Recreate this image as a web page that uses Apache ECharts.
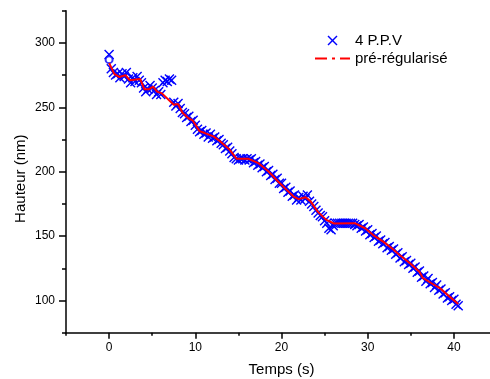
<!DOCTYPE html>
<html>
<head>
<meta charset="utf-8">
<script src="https://cdn.jsdelivr.net/npm/echarts@6/dist/echarts.min.js"></script>
<style>html,body{margin:0;padding:0;background:#fff;}#c{width:490px;height:379px;}</style>
</head>
<body>
<div id="c"></div>
<script>
// Measured points "4 P.P.V" (time in s, height in nm)
const ppvTime = [0,0.25,0.5,0.75,1,1.25,1.5,1.75,2,2.25,2.5,2.75,3,3.25,3.5,3.75,4,4.25,4.5,4.75,5,5.25,5.5,5.75,6,6.25,6.5,6.75,7,7.25,7.5,7.75,8,8.25,8.5,8.75,9,9.25,9.5,9.75,10,10.25,10.5,10.75,11,11.25,11.5,11.75,12,12.25,12.5,12.75,13,13.25,13.5,13.75,14,14.25,14.5,14.75,15,15.25,15.5,15.75,16,16.25,16.5,16.75,17,17.25,17.5,17.75,18,18.25,18.5,18.75,19,19.25,19.5,19.75,20,20.25,20.5,20.75,21,21.25,21.5,21.75,22,22.25,22.5,22.75,23,23.25,23.5,23.75,24,24.25,24.5,24.75,25,25.25,25.5,25.75,26,26.25,26.5,26.75,27,27.25,27.5,27.75,28,28.25,28.5,28.75,29,29.25,29.5,29.75,30,30.25,30.5,30.75,31,31.25,31.5,31.75,32,32.25,32.5,32.75,33,33.25,33.5,33.75,34,34.25,34.5,34.75,35,35.25,35.5,35.75,36,36.25,36.5,36.75,37,37.25,37.5,37.75,38,38.25,38.5,38.75,39,39.25,39.5,39.75,40,40.25,40.5];
const ppvHeight = [291,280,277,275,276,273,276,274,277,272,269,273,270,274,271,269,265,262,264,267,265,263,260,262,260,269,271,270,272,271,254,251,253,249,246,245,242,243,239,240,236,233,231,232,229,230,227,229,226,227,224,225,222,221,218,219,216,214,211,210,209,210,210,209,210,209,210,207,208,205,206,203,204,200,201,197,198,194,195,191,191,187,188,184,185,181,182,178,180,178,181,179,182,177,175,173,170,168,166,165,162,160,156,155,158,160,160,160,160,160,160,160,160,160,159,158,159,156,157,154,155,151,152,149,150,146,147,144,145,141,142,139,140,136,137,133,134,130,131,128,129,125,126,122,123,118,119,115,117,113,114,110,112,108,109,105,106,102,103,100,101,97,96];
// Extra hollow marker at start
const startTime = [0];
const startHeight = [287];
// Pre-regularised curve
const regTime = [0,0.6,1.2,1.9,2.4,3.6,4.1,4.6,5.1,5.6,6.1,7.5,8.0,8.5,9.2,9.7,10.5,11.1,12.1,12.9,14.0,14.8,16.2,17.3,18.5,19.6,20.6,21.4,22.0,22.8,23.4,24.2,25.2,26.1,28.5,29.7,30.6,31.8,32.8,33.7,34.9,36.0,36.4,37.4,38.4,39.5,40.5];
const regHeight = [284.4,276,273.5,275,271,272,264,264,266,262,261,252,252.5,246,241.5,239.8,231.5,230,227.4,223.5,217,210,210,206.7,200.2,192.4,185.9,180.7,178.7,180.2,176.8,169,162.6,159.8,160,156.1,151,145.7,140.6,135.4,128.9,122.4,117.5,113.4,109.5,103,97.3];
// Axis settings
const xMajorTicks = [0,10,20,30,40];
const yMajorTicks = [100,150,200,250,300];
const seriesNames = ['4 P.P.V', 'pré-régularisé'];

const zip = (a, b) => a.map((v, i) => [v, b[i]]);
const font = '"Liberation Sans", Arial, sans-serif';
const cross = 'path://M0,1 L1,0 L5,4 L9,0 L10,1 L6,5 L10,9 L9,10 L5,6 L1,10 L0,9 L4,5 Z';

const chart = echarts.init(document.getElementById('c'), null, {renderer: 'canvas'});
const axisLineStyle = {color: '#000', width: 1.5};
const baseX = {type: 'value', min: -5, max: 45, interval: 5, splitLine: {show: false}};
const baseY = {type: 'value', min: 75, max: 325, interval: 25, splitLine: {show: false}};
chart.setOption({
  animation: false,
  backgroundColor: '#fff',
  grid: {left: 66, right: -7, top: 10.7, bottom: 46.3, containLabel: false, outerBoundsMode: 'none'},
  legend: {
    orient: 'vertical', left: 309, top: 28, padding: 5, itemWidth: 35, itemHeight: 10, itemGap: 3,
    textStyle: {fontFamily: font, fontSize: 15, color: '#000'},
    symbolKeepAspect: true,
    data: [
      {name: seriesNames[0], icon: cross},
      {name: seriesNames[1], itemStyle: {opacity: 0}, lineStyle: {type: [12, 5, 3, 5], width: 2, color: '#ff0000'}}
    ]
  },
  xAxis: [
    Object.assign({}, baseX, {
      position: 'bottom',
      name: 'Temps (s)', nameLocation: 'middle', nameGap: 30, nameMoveOverlap: false,
      nameTextStyle: {fontFamily: font, fontSize: 15, color: '#000'},
      axisLine: {show: true, onZero: false, lineStyle: axisLineStyle},
      axisTick: {show: true, length: 3, lineStyle: {color: '#000', width: 1.5}},
      axisLabel: {customValues: xMajorTicks, margin: 9, fontFamily: font, fontSize: 12, color: '#000'}
    }),
    Object.assign({}, baseX, {
      position: 'bottom',
      axisLine: {show: false, onZero: false},
      axisTick: {show: true, length: 6, customValues: xMajorTicks, lineStyle: {color: '#000', width: 1.5}},
      axisLabel: {show: false}
    })
  ],
  yAxis: [
    Object.assign({}, baseY, {
      position: 'left',
      name: 'Hauteur (nm)', nameLocation: 'middle', nameGap: 38, nameMoveOverlap: false,
      nameTextStyle: {fontFamily: font, fontSize: 15, color: '#000', padding: [0, 14, 0, 0]},
      axisLine: {show: true, onZero: false, lineStyle: axisLineStyle},
      axisTick: {show: true, length: 4, lineStyle: {color: '#000', width: 1.5}},
      axisLabel: {customValues: yMajorTicks, margin: 11, fontFamily: font, fontSize: 12, color: '#000'}
    }),
    Object.assign({}, baseY, {
      position: 'left',
      axisLine: {show: false, onZero: false},
      axisTick: {show: true, length: 7, customValues: yMajorTicks, lineStyle: {color: '#000', width: 1.5}},
      axisLabel: {show: false}
    })
  ],
  series: [
    {
      name: seriesNames[0], type: 'scatter', xAxisIndex: 0, yAxisIndex: 0,
      symbol: cross, symbolSize: 10,
      itemStyle: {color: '#0000ff', opacity: 1},
      data: zip(ppvTime, ppvHeight), z: 2
    },
    {
      name: 'start', type: 'scatter', xAxisIndex: 0, yAxisIndex: 0,
      symbol: 'emptyCircle', symbolSize: 7,
      itemStyle: {color: '#0000ff', borderColor: '#0000ff', borderWidth: 1.2},
      data: zip(startTime, startHeight), z: 2
    },
    {
      name: seriesNames[1], type: 'line', xAxisIndex: 0, yAxisIndex: 0,
      symbol: 'none', smooth: false,
      lineStyle: {color: '#ff0000', width: 2},
      itemStyle: {color: '#ff0000'},
      data: zip(regTime, regHeight), z: 3
    }
  ]
});
</script>
</body>
</html>
